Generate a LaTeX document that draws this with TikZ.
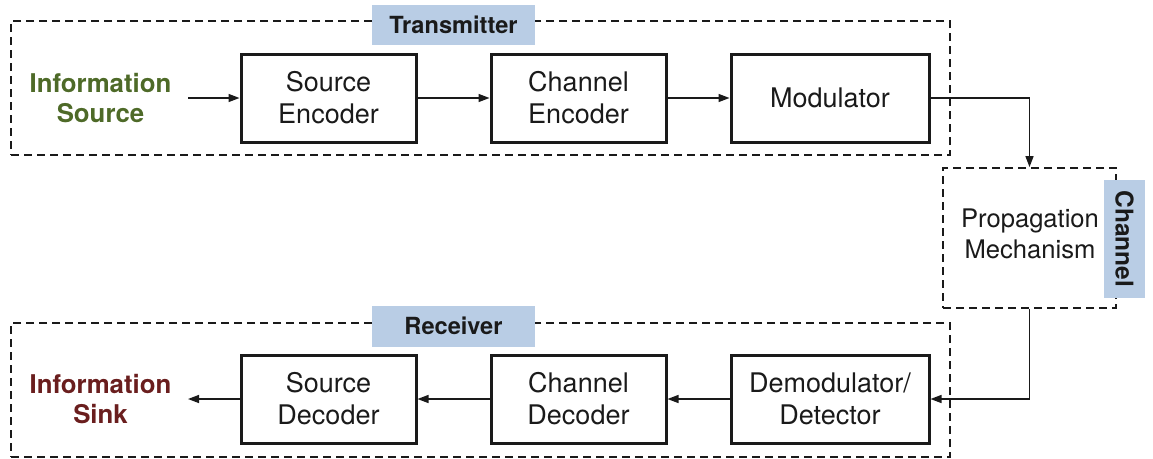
\documentclass[tikz,border=0pt]{standalone}
\usepackage{fontspec}
\setmainfont{TeX Gyre Heros}
\usetikzlibrary{arrows.meta}
\definecolor{srcgreen}{HTML}{4E6A28}
\definecolor{sinkred}{HTML}{6A1E1E}
\definecolor{lblblue}{HTML}{B9CDE5}
\definecolor{ink}{HTML}{1A1A1A}
\tikzset{
  blk/.style={draw=ink, line width=3pt, minimum width=175pt, minimum height=88pt, align=center,
    font=\fontsize{27}{32}\selectfont, text=ink, inner sep=0pt},
  grp/.style={draw=ink, line width=1.8pt, dash pattern=on 8pt off 5pt, inner sep=0pt},
  lbl/.style={fill=lblblue, inner sep=0pt, font=\bfseries\fontsize{23.6}{28}\selectfont, text=ink},
  endtxt/.style={align=center, font=\bfseries\fontsize{25.8}{30}\selectfont, inner sep=0pt},
  arr/.style={draw=ink, line width=1.4pt, -{Triangle[length=11pt,width=8pt]}},
}
\begin{document}
\begin{tikzpicture}[x=1pt,y=-1pt]
\useasboundingbox (0,0) rectangle (1153,458);
% group boxes
\node[grp, minimum width=939pt, minimum height=134pt] (tx) at (480.5,88) {};
\node[grp, minimum width=939pt, minimum height=134pt] (rx) at (480.5,390) {};
\node[grp, minimum width=173pt, minimum height=140pt] (ch) at (1029.5,238) {};
\node[align=center, font=\fontsize{25.6}{31}\selectfont, text=ink, inner sep=0pt] (prop) at (1030,234) {Propagation\\Mechanism};
% labels
\node[lbl, minimum width=163pt, minimum height=40pt] (txl) at (453.5,25) {Transmitter};
\node[lbl, minimum width=163pt, minimum height=41pt] (rxl) at (453.5,326) {Receiver};
\node[lbl, minimum width=41pt, minimum height=118pt] (chl) at (1124.5,239) {};
\node[font=\bfseries\fontsize{24.5}{28}\selectfont, text=ink, rotate=-90, inner sep=0pt] (chlt) at (1124.5,239) {Channel};
% transmitter blocks
\node[endtxt, text=srcgreen] (src) at (100.5,98) {Information\\Source};
\node[blk] (senc) at (328.5,98) {Source\\Encoder};
\node[blk] (cenc) at (578.5,98) {Channel\\Encoder};
\node[blk, minimum width=198pt] (mod) at (830,98) {Modulator};
% receiver blocks
\node[endtxt, text=sinkred] (sink) at (100.5,399) {Information\\Sink};
\node[blk] (sdec) at (328.5,399) {Source\\Decoder};
\node[blk] (cdec) at (578.5,399) {Channel\\Decoder};
\node[blk, minimum width=198pt] (dem) at (830,399) {Demodulator/\\Detector};
\coordinate (srcout) at (188,98);
\coordinate (sinkin) at (188,399);
% connectors
\draw[arr] (srcout) -- (senc.west);
\draw[arr] (senc.east) -- (cenc.west);
\draw[arr] (cenc.east) -- (mod.west);
\draw[arr] (mod.east) -| (ch.north);
\draw[arr] (ch.south) |- (dem.east);
\draw[arr] (dem.west) -- (cdec.east);
\draw[arr] (cdec.west) -- (sdec.east);
\draw[arr] (sdec.west) -- (sinkin);
\end{tikzpicture}
\end{document}
